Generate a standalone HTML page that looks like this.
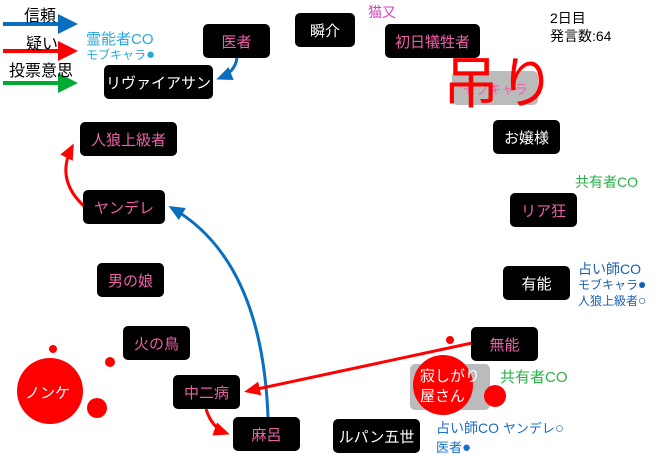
<!DOCTYPE html>
<html><head><meta charset="utf-8"><style>
body{margin:0;width:660px;height:454px;background:#fff;position:relative;overflow:hidden;font-family:"Liberation Sans","Noto Sans CJK JP",sans-serif}
.n{position:absolute;background:#000;border-radius:5px;color:#ee5fa8;font-size:15px;display:flex;align-items:center;justify-content:center;height:34px}
.t{position:absolute;white-space:nowrap}
svg{position:absolute;left:0;top:0}
</style></head><body>
<svg width="660" height="454">
<defs>
<marker id="b" markerUnits="userSpaceOnUse" markerWidth="16" markerHeight="16" refX="12" refY="8" orient="auto"><path d="M0,1L16,8L0,15z" fill="#0b6fc0"/></marker>
<marker id="r" markerUnits="userSpaceOnUse" markerWidth="16" markerHeight="16" refX="12" refY="8" orient="auto"><path d="M0,1L16,8L0,15z" fill="#f00"/></marker>
</defs>
<line x1="3" y1="24" x2="58" y2="24" stroke="#0b6fc0" stroke-width="4"/><path d="M58,14L78,24L58,34z" fill="#0b6fc0"/>
<line x1="3" y1="51" x2="58" y2="51" stroke="#f00" stroke-width="4"/><path d="M58,41L78,51L58,61z" fill="#f00"/>
<line x1="3" y1="83" x2="58" y2="83" stroke="#0a3" stroke-width="4"/><path d="M58,73L78,83L58,93z" fill="#0a3"/>
<path d="M237,58 Q235,72 220,78" stroke="#0b6fc0" stroke-width="3" fill="none" marker-end="url(#b)"/>
<path d="M268,417 Q262,260 172,208" stroke="#0b6fc0" stroke-width="3" fill="none" marker-end="url(#b)"/>
<path d="M85,207 Q55,180 72,147" stroke="#f00" stroke-width="3" fill="none" marker-end="url(#r)"/>
<path d="M472,343 L248,391" stroke="#f00" stroke-width="3" fill="none" marker-end="url(#r)"/>
<path d="M206,409 Q212,428 226,433" stroke="#f00" stroke-width="3" fill="none" marker-end="url(#r)"/>
<circle cx="50" cy="391" r="33" fill="#f00"/><circle cx="97" cy="408" r="10" fill="#f00"/><circle cx="110" cy="362" r="5" fill="#f00"/><circle cx="53" cy="349" r="4" fill="#f00"/>
</svg>
<div class="t" style="left:24px;top:2px;font-size:16px">信頼</div>
<div class="t" style="left:26px;top:30px;font-size:16px">疑い</div>
<div class="t" style="left:9px;top:57px;font-size:16px">投票意思</div>
<div class="t" style="left:86px;top:28px;font-size:15px;color:#29a8e0">霊能者CO</div>
<div class="t" style="left:86px;top:46px;font-size:12px;color:#29a8e0">モブキャラ<span style="font-size:15px">●</span></div>
<div class="t" style="left:368px;top:2px;font-size:14px;color:#e03ec0">猫又</div>
<div class="t" style="left:550px;top:8px;font-size:14px">2日目</div>
<div class="t" style="left:550px;top:26px;font-size:14px">発言数:64</div>
<div class="n" style="left:295px;top:13px;width:60px;color:#fff">瞬介</div>
<div class="n" style="left:203px;top:24px;width:67px">医者</div>
<div class="n" style="left:385px;top:24px;width:95px">初日犠牲者</div>
<div class="n" style="left:104px;top:65px;width:109px;color:#fff">リヴァイアサン</div>
<div class="n" style="left:452px;top:71px;width:86px;background:#bbb;color:#ee5fa8;font-size:13px">モブキャラ</div>
<div class="t" style="left:443px;top:52px;font-size:56px;color:#f00;line-height:64px">吊り</div>
<div class="n" style="left:80px;top:122px;width:97px">人狼上級者</div>
<div class="n" style="left:493px;top:120px;width:67px;color:#fff">お嬢様</div>
<div class="t" style="left:575px;top:172px;font-size:14px;color:#2ab24a">共有者CO</div>
<div class="n" style="left:510px;top:193px;width:67px">リア狂</div>
<div class="n" style="left:83px;top:190px;width:82px">ヤンデレ</div>
<div class="n" style="left:97px;top:263px;width:67px">男の娘</div>
<div class="n" style="left:503px;top:266px;width:67px;color:#fff">有能</div>
<div class="t" style="left:578px;top:259px;font-size:14px;color:#1a5fb0">占い師CO</div>
<div class="t" style="left:578px;top:276px;font-size:12px;color:#1a5fb0">モブキャラ<span style="font-size:14px">●</span></div>
<div class="t" style="left:578px;top:292px;font-size:12px;color:#1a5fb0">人狼上級者<span style="font-size:14px">○</span></div>
<div class="n" style="left:123px;top:326px;width:67px">火の鳥</div>
<div class="n" style="left:471px;top:327px;width:67px">無能</div>
<div class="n" style="left:410px;top:364px;width:80px;height:46px;background:#bbb"></div>
<svg width="660" height="454"><circle cx="443" cy="385" r="30" fill="#f00"/><circle cx="495" cy="396" r="11" fill="#f00"/><circle cx="450" cy="340" r="4" fill="#f00"/></svg>
<div class="t" style="left:420px;top:367px;font-size:15px;color:#fff;line-height:20px">寂しがり<br>屋さん</div>
<div class="t" style="left:500px;top:366px;font-size:15px;color:#2ab24a">共有者CO</div>
<div class="t" style="left:25px;top:382px;font-size:15px;color:#fff">ノンケ</div>
<div class="n" style="left:173px;top:375px;width:67px">中二病</div>
<div class="n" style="left:233px;top:417px;width:67px">麻呂</div>
<div class="n" style="left:333px;top:419px;width:87px;color:#fff">ルパン五世</div>
<div class="t" style="left:436px;top:418px;font-size:14px;color:#1a6fc8">占い師CO <span style="font-size:13px">ヤンデレ<span style="font-size:15px">○</span></span></div>
<div class="t" style="left:436px;top:437px;font-size:13px;color:#1a6fc8">医者<span style="font-size:15px">●</span></div>
</body></html>
